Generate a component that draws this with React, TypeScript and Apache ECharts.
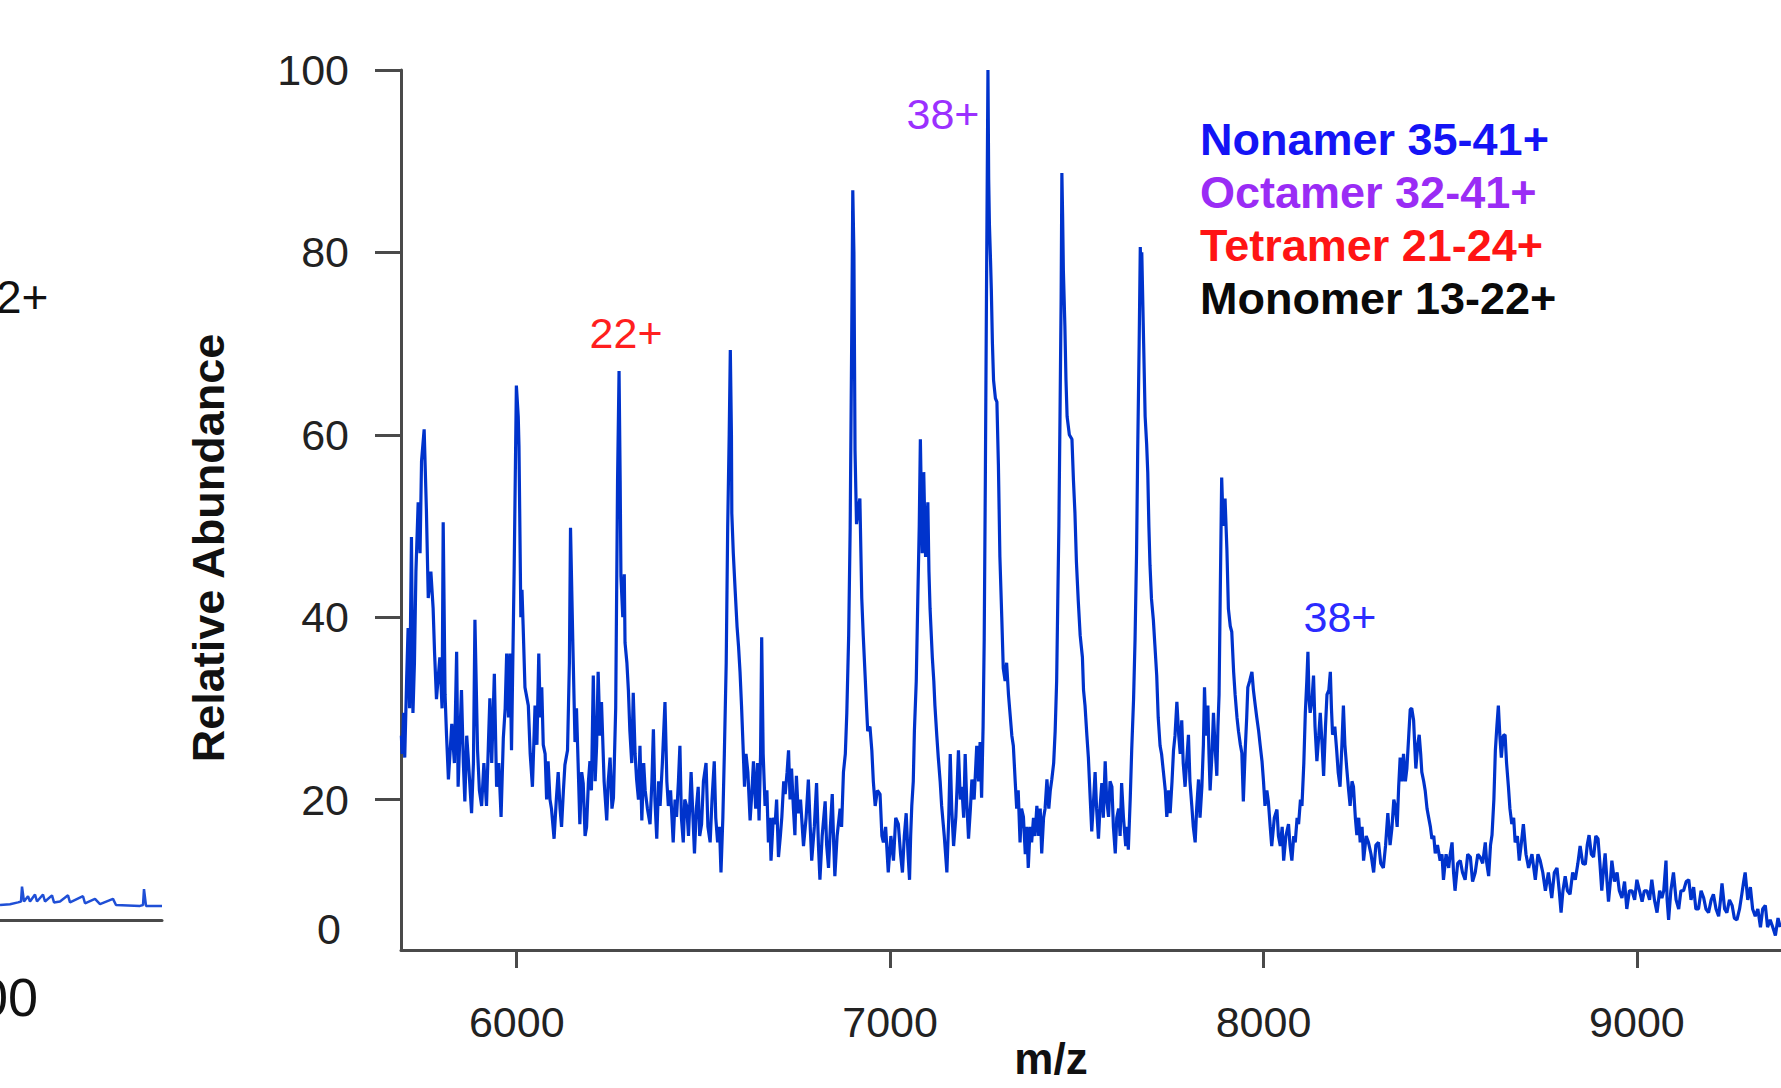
import React, { useEffect, useRef } from "react";
import * as echarts from "echarts";

// ---- Main spectrum (m/z, relative abundance) ----
const spectrumA: [number, number][] = [
  [5691, 27], [5693, 25], [5697, 29.5], [5700, 24.6], [5705, 33], [5709, 38.8], [5713, 30], [5718, 48.8],
  [5722, 29.5], [5726, 35], [5730, 45], [5736, 52.6], [5741, 47], [5745, 57.1], [5752, 60.6], [5758, 51.8],
  [5763, 42.1], [5770, 45], [5776, 41], [5780, 36], [5785, 31], [5794, 35.6], [5800, 30], [5803, 50.4],
  [5808, 31.5], [5812, 27], [5817, 22.2], [5826, 28.3], [5833, 24], [5839, 36.2], [5843, 21.4], [5852, 32],
  [5857, 24], [5861, 19.8], [5866, 27], [5870, 24.6], [5879, 18.5], [5884, 24], [5888, 39.7], [5895, 25.4],
  [5900, 21], [5906, 19.3], [5912, 24], [5919, 19.3], [5924, 26], [5928, 31.1], [5933, 24], [5940, 33.8],
  [5946, 21.4], [5952, 24], [5958, 18.1], [5964, 26.7], [5969, 30], [5973, 36], [5978, 29], [5982, 36],
  [5986, 25.4], [5993, 45], [5999, 65.4], [6004, 62], [6006, 58.7], [6011, 40], [6014, 43], [6017, 39.2],
  [6022, 32.3], [6031, 30.3], [6036, 25], [6042, 21.4], [6049, 30.3], [6054, 26], [6059, 36], [6063, 29],
  [6067, 32.3], [6071, 26], [6076, 25], [6080, 20], [6084, 24.2], [6089, 20], [6093, 19], [6100, 15.7],
  [6106, 20], [6111, 23], [6116, 19], [6120, 17], [6125, 21], [6129, 23.8], [6136, 25.4], [6141, 35],
  [6144, 49.8], [6150, 37.6], [6156, 26.3], [6160, 30], [6163, 25.9], [6169, 17.3], [6174, 23], [6178, 21.8],
  [6183, 16], [6187, 17], [6192, 22], [6196, 24.2], [6200, 21], [6205, 33.6],
];

const spectrumB: [number, number][] = [
  [6210, 22], [6214, 26], [6218, 34], [6223, 27], [6227, 30.7], [6234, 22], [6241, 17.7], [6245, 22],
  [6250, 24.6], [6255, 19], [6259, 20.2], [6265, 30], [6270, 55], [6274, 67], [6277, 55], [6279, 44.5],
  [6284, 40], [6288, 44.7], [6290, 37.2], [6295, 35], [6299, 32], [6303, 27.5], [6308, 24], [6312, 31.7],
  [6317, 25], [6321, 22.2], [6326, 20], [6330, 25.9], [6335, 17.7], [6340, 24], [6344, 21], [6350, 19],
  [6357, 17.3], [6362, 22], [6366, 27.7], [6370, 20], [6375, 15.7], [6380, 22], [6384, 19.3], [6390, 24],
  [6397, 30.7], [6402, 22], [6406, 19.3], [6412, 21], [6419, 15.3], [6424, 20], [6428, 18.1], [6433, 22],
  [6437, 25.9], [6441, 18], [6446, 15.3], [6450, 20], [6455, 19.3], [6460, 16], [6467, 23], [6472, 18],
  [6476, 14.1], [6481, 19], [6486, 21.4], [6490, 16], [6495, 17.3], [6500, 22], [6507, 24], [6512, 17],
  [6518, 15.3], [6523, 20], [6529, 24.2], [6533, 18], [6538, 15.3], [6543, 17], [6547, 12], [6552, 18],
  [6556, 25], [6561, 35], [6565, 50], [6569, 60], [6572, 69.3], [6575, 60], [6576, 51.4], [6580, 47],
  [6585, 42.9], [6590, 39], [6594, 36.8], [6598, 34], [6602, 30.3], [6606, 26], [6610, 21.4], [6614, 25],
  [6619, 23], [6625, 17.7], [6630, 21], [6634, 24.2], [6640, 19], [6645, 24], [6649, 17.7], [6653, 25],
  [6656, 37.8], [6660, 25], [6665, 19.3], [6670, 21], [6674, 15.3], [6678, 18], [6681, 13.3], [6687, 18],
  [6692, 17.3], [6696, 20], [6701, 13.7], [6706, 16], [6710, 18.1], [6715, 22], [6719, 20.6], [6724, 23],
  [6728, 25.4], [6732, 20], [6736, 23.4], [6741, 19], [6745, 16.1],
];

const spectrumC: [number, number][] = [
  [6749, 22.6], [6754, 18.5], [6760, 20], [6768, 14.9], [6775, 18], [6781, 22.2], [6786, 17], [6790, 13.3],
  [6797, 17], [6803, 21.8], [6808, 15], [6812, 11.2], [6818, 16], [6826, 19.8], [6830, 15], [6835, 12.5],
  [6840, 17], [6845, 20.6], [6849, 15], [6852, 11.6], [6858, 16], [6866, 19], [6870, 17], [6875, 23],
  [6880, 25], [6884, 29.5], [6889, 38], [6893, 49.8], [6897, 70], [6900, 86.8], [6903, 80], [6906, 58.3],
  [6910, 50.2], [6915, 52], [6919, 53], [6924, 42.1], [6928, 38], [6933, 33.6], [6937, 30], [6940, 27.5],
  [6946, 28], [6951, 25.4], [6955, 22], [6960, 19.3], [6966, 21], [6973, 20.6], [6978, 16], [6982, 15.3],
  [6988, 17], [6995, 12], [7002, 16], [7009, 13.3], [7015, 18], [7022, 17.3], [7028, 14], [7033, 12],
  [7038, 16], [7043, 18.5], [7048, 14], [7052, 11.2], [7055, 16], [7058, 19.3], [7062, 22], [7065, 27.5],
  [7070, 33], [7074, 41.7], [7078, 50], [7081, 59.5], [7084, 52], [7086, 47], [7090, 55.9], [7093, 50],
  [7095, 46.6], [7101, 52.6], [7104, 45], [7107, 40.9], [7113, 35.6], [7117, 33], [7120, 30.3], [7125, 27],
  [7129, 24.6], [7134, 22], [7138, 19.3], [7145, 16], [7152, 12], [7157, 18], [7161, 25], [7165, 19],
  [7170, 14.9], [7176, 18.1], [7180, 22], [7183, 25.4], [7188, 20], [7192, 21.4], [7197, 18], [7201, 25],
  [7205, 20], [7210, 15.7], [7215, 19], [7219, 22.2], [7225, 20], [7232, 25.9], [7237, 22], [7241, 26.3],
  [7245, 20.2], [7249, 28], [7252, 37.6], [7255, 55], [7258, 75], [7262, 100], [7264, 88], [7266, 83],
  [7269, 79], [7271, 76], [7274, 70], [7277, 66], [7282, 64], [7286, 63.6], [7290, 56.7], [7294, 46.6],
  [7299, 40], [7303, 34.4], [7308, 33], [7312, 35], [7317, 31.5], [7322, 29], [7326, 27], [7330, 25.9],
  [7335, 22], [7339, 19], [7343, 21], [7348, 15.3], [7352, 19], [7357, 18.1], [7362, 14], [7366, 17],
  [7370, 12.5], [7375, 17], [7379, 15.3], [7384, 18], [7388, 16], [7393, 19.3], [7398, 16], [7402, 19],
  [7406, 14.1], [7411, 18], [7415, 19], [7420, 22.2], [7425, 19], [7429, 21], [7433, 22.2], [7438, 24],
  [7442, 27.5], [7446, 33], [7449, 41.7], [7452, 50], [7455, 62], [7458, 75], [7460, 88.7], [7462, 84],
  [7464, 78], [7468, 72], [7471, 66], [7474, 62], [7480, 60], [7487, 59.5], [7491, 55], [7495, 51.4],
  [7499, 46], [7504, 41.7], [7509, 38], [7515, 35.6], [7518, 32], [7522, 30.3], [7527, 27], [7531, 24.6],
  [7536, 20], [7540, 16.5], [7545, 20], [7549, 23], [7553, 19], [7558, 15.7], [7562, 19], [7567, 21.8],
  [7571, 18], [7576, 24.2], [7580, 20], [7585, 18.1], [7589, 22], [7594, 21.4], [7598, 17], [7603, 14.1],
  [7607, 18], [7612, 19], [7616, 16], [7620, 21.8], [7625, 18], [7631, 14.9], [7635, 17], [7638, 14.5],
  [7643, 20], [7647, 25.4], [7652, 31], [7656, 37.6], [7660, 47], [7663, 58], [7667, 70], [7670, 80.6],
  [7672, 77], [7674, 80], [7677, 74], [7679, 70], [7683, 62], [7687, 59], [7690, 55.9], [7693, 50],
  [7696, 45.7], [7700, 42], [7705, 39.7], [7709, 37], [7714, 33.6], [7718, 29], [7723, 25.9], [7727, 25],
  [7732, 23], [7737, 21], [7741, 18.1], [7746, 21], [7750, 18.5], [7755, 22], [7759, 25.4], [7763, 27],
  [7768, 30.7], [7773, 27], [7777, 25], [7781, 28.7], [7785, 24], [7790, 21.4], [7794, 24], [7799, 27.1],
  [7803, 22], [7808, 19.3], [7812, 17], [7817, 15.3],
];

const spectrumD: [number, number][] = [
  [7821, 19], [7826, 22.2], [7830, 18], [7835, 21.4], [7839, 26], [7842, 32.3], [7846, 27], [7851, 30.3],
  [7854, 25], [7857, 21], [7862, 25], [7866, 29.5], [7870, 26], [7875, 22.6], [7878, 28], [7881, 31.5],
  [7884, 42], [7888, 55.3], [7892, 50], [7897, 53], [7902, 47.4], [7906, 40.9], [7911, 39], [7915, 38.4],
  [7920, 34], [7924, 31.5], [7929, 29], [7933, 27.5], [7938, 26], [7942, 25.1], [7946, 19.8], [7951, 25.4],
  [7955, 29], [7958, 32.3], [7963, 33], [7969, 34], [7973, 32], [7978, 30.3], [7982, 29], [7987, 27.5],
  [7991, 26], [7996, 24.2], [8000, 22], [8004, 19.3], [8009, 21], [8013, 19.8], [8018, 17], [8022, 14.9],
  [8029, 18], [8036, 18.9], [8040, 16], [8045, 14.9], [8050, 17], [8054, 13.3], [8060, 16], [8067, 17.3],
  [8071, 15], [8076, 13.3], [8081, 16], [8085, 15.3], [8090, 18], [8094, 17.3], [8099, 20], [8103, 19.3],
  [8108, 24], [8112, 29.5], [8116, 33], [8119, 36.2], [8122, 31], [8125, 29.5], [8130, 31], [8134, 33.6],
  [8138, 28], [8143, 24.2], [8148, 27], [8152, 29.5], [8157, 26], [8161, 22.6], [8166, 28], [8170, 31.5],
  [8175, 32], [8179, 34], [8182, 30], [8185, 27.1], [8191, 28], [8196, 25.4], [8200, 23], [8205, 21.4],
  [8210, 26], [8214, 30.3], [8218, 26], [8223, 23.4], [8228, 21], [8232, 19.3], [8237, 22], [8241, 21.4],
  [8246, 18], [8250, 16.1], [8255, 18], [8259, 15.3], [8264, 17], [8268, 13.3], [8275, 16], [8281, 15.3],
  [8288, 14], [8295, 12], [8301, 15], [8308, 15.3], [8314, 13], [8321, 12.5], [8327, 15], [8333, 18.5],
  [8339, 15], [8344, 16.9], [8349, 20], [8353, 19.3],
];

const spectrumE: [number, number][] = [
  [8358, 17], [8362, 21.4], [8366, 24.6], [8371, 22], [8375, 25], [8380, 22], [8384, 23.4], [8389, 27],
  [8393, 29.9], [8397, 30], [8402, 28.7], [8405, 26], [8408, 23.4], [8413, 26], [8417, 27.1], [8421, 25],
  [8424, 23], [8429, 22], [8433, 21], [8438, 19], [8442, 18.1], [8447, 17], [8451, 15.7], [8456, 16],
  [8460, 14.1], [8466, 15], [8473, 13.3], [8478, 14], [8482, 11.2], [8489, 14], [8496, 12.5], [8500, 14],
  [8505, 15.3], [8509, 12], [8513, 10], [8520, 13], [8527, 13.3], [8533, 12], [8540, 11.2], [8547, 14],
  [8554, 13.7], [8560, 11], [8567, 12], [8574, 14], [8580, 13.7], [8587, 13], [8594, 15.3], [8598, 13],
  [8603, 11.6], [8608, 15], [8612, 16.1], [8617, 20], [8621, 25.4], [8625, 28], [8629, 30.3], [8633, 27],
  [8637, 24.6], [8642, 27], [8647, 27.1], [8651, 24], [8656, 21.4], [8660, 19], [8665, 17.3], [8670, 18],
  [8674, 15.3], [8680, 16], [8685, 13.3], [8690, 15], [8696, 17.3], [8703, 14], [8710, 12.5], [8719, 14],
  [8728, 11.2], [8735, 14], [8741, 13.3], [8748, 12], [8755, 10], [8763, 12], [8772, 9.2], [8779, 12],
  [8786, 12.5], [8792, 10], [8797, 7.6], [8802, 10], [8808, 11.6], [8814, 10], [8821, 9.6], [8828, 12],
  [8835, 11.2], [8842, 13], [8848, 14.9], [8855, 13], [8862, 12.9], [8867, 15], [8872, 16.1], [8878, 14],
  [8884, 13.7],
];

const spectrumF: [number, number][] = [
  [8890, 16], [8896, 15.7], [8901, 13], [8906, 10], [8910, 12], [8915, 14.1], [8920, 11], [8924, 8.8],
  [8929, 11], [8933, 13.3], [8940, 11], [8947, 12], [8953, 10], [8960, 9.2], [8967, 11], [8973, 8],
  [8980, 10], [8987, 10], [8994, 9], [9000, 11.2], [9007, 10], [9014, 8.8], [9020, 10], [9027, 10],
  [9034, 9], [9040, 11.2], [9047, 9], [9054, 7.6], [9061, 10], [9067, 9.2], [9072, 10], [9078, 13.3],
  [9081, 9], [9085, 6.8], [9091, 10], [9098, 12], [9105, 9], [9112, 8], [9118, 10], [9125, 10],
  [9132, 11], [9139, 11.2], [9145, 9], [9152, 10.4], [9158, 8], [9165, 8], [9172, 10], [9179, 9.2],
  [9185, 8], [9192, 7.6], [9199, 9], [9205, 9.6], [9212, 8], [9219, 7.2], [9224, 9], [9228, 10.8],
  [9235, 8], [9241, 7.6], [9248, 9], [9255, 8.4], [9261, 7], [9268, 6.8], [9275, 8], [9281, 9.6],
  [9286, 11], [9290, 12], [9297, 9], [9304, 10.4], [9310, 8], [9317, 7.2], [9324, 8], [9331, 6],
  [9337, 8], [9344, 8.4], [9350, 6], [9357, 6.8], [9364, 6], [9371, 5.1], [9378, 7], [9384, 6],
];

// Peak annotations: [label, m/z, abundance, colour]
const peakLabels: [string, number, number, string][] = [
  ["22+", 6274, 67, "#ff1f1f"],
  ["38+", 7262, 100, "#9b30ff"],
  ["38+", 8119, 36.2, "#2b2bff"],
];

// Species legend lines
const speciesText = ["Nonamer 35-41+", "Octamer 32-41+", "Tetramer 21-24+", "Monomer 13-22+"];
const speciesColors = ["#1414f5", "#9a2cf5", "#ff1414", "#0a0a0a"];

// Axis ticks
const xTicks = [6000, 7000, 8000, 9000];
const yTicks = [20, 40, 60, 80, 100];
const yZeroLabelAt = 5.8; // the "0" label sits here in the picture

// Left (cut-off) neighbouring panel trace
const leftPanel: [number, number][] = [
  [0, 1.7], [10, 1.8], [18, 2.0], [21, 2.1], [22, 3.8], [24, 2.1], [28, 2.7], [30, 2.1], [35, 2.9],
  [37, 2.1], [43, 2.9], [45, 2.1], [52, 2.8], [54, 2.0], [60, 2.1], [68, 2.8], [70, 2.0], [83, 2.7],
  [85, 1.9], [95, 2.4], [100, 1.8], [113, 2.4], [116, 1.7], [140, 1.6], [143, 1.7], [144, 3.5],
  [146, 1.6], [162, 1.6],
];

const FONT = '"Liberation Sans", Arial, Helvetica, sans-serif';
const AXIS_COLOR = "#4a4a4a";

export default function App() {
  const ref = useRef<HTMLDivElement>(null);

  useEffect(() => {
    if (!ref.current) return;
    const chart = echarts.init(ref.current, undefined, { renderer: "svg" });
    const spectrum = [
      ...spectrumA, ...spectrumB, ...spectrumC, ...spectrumD, ...spectrumE, ...spectrumF,
    ];

    const option: any = {
      animation: false,
      backgroundColor: "#ffffff",
      textStyle: { fontFamily: FONT },
      grid: [
        { left: 401, right: 0, top: 70, bottom: 138, outerBoundsMode: "none" },
        { left: 0, width: 162, top: 40, bottom: 168, outerBoundsMode: "none" },
      ],
      xAxis: [
        {
          type: "value",
          gridIndex: 0,
          min: 5690,
          max: 9386,
          axisLine: { show: true, onZero: false, lineStyle: { color: AXIS_COLOR, width: 3 } },
          axisTick: {
            show: true,
            customValues: xTicks,
            length: 18,
            lineStyle: { color: AXIS_COLOR, width: 3 },
          },
          axisLabel: {
            customValues: xTicks,
            formatter: (v: number) => String(v),
            margin: 50,
            fontSize: 43,
            color: "#222222",
            fontFamily: FONT,
          },
          splitLine: { show: false },
          name: "m/z",
          nameLocation: "middle",
          nameGap: 86,
          nameMoveOverlap: false,
          nameTextStyle: {
            fontWeight: "bold",
            fontSize: 44,
            color: "#111111",
            fontFamily: FONT,
            padding: [0, 80, 0, 0],
          },
        },
        {
          type: "value",
          gridIndex: 1,
          min: 0,
          max: 162,
          axisLine: { show: true, onZero: false, lineStyle: { color: AXIS_COLOR, width: 3 } },
          axisTick: { show: false },
          axisLabel: { show: false },
          splitLine: { show: false },
        },
      ],
      yAxis: [
        {
          type: "value",
          gridIndex: 0,
          min: 3.5,
          max: 100,
          axisLine: { show: true, onZero: false, lineStyle: { color: AXIS_COLOR, width: 3 } },
          axisTick: {
            show: true,
            customValues: yTicks,
            length: 26,
            lineStyle: { color: AXIS_COLOR, width: 3 },
          },
          axisLabel: {
            customValues: [yZeroLabelAt, ...yTicks],
            formatter: (v: number) => (v < 10 ? "{z|0}" : String(v)),
            margin: 52,
            fontSize: 43,
            color: "#222222",
            fontFamily: FONT,
            rich: {
              z: { fontSize: 43, color: "#222222", fontFamily: FONT, padding: [0, 8, 0, 0] },
            },
          },
          splitLine: { show: false },
          name: "Relative Abundance",
          nameLocation: "middle",
          nameGap: 170,
          nameMoveOverlap: false,
          nameTextStyle: {
            fontWeight: "bold",
            fontSize: 45,
            color: "#111111",
            fontFamily: FONT,
            padding: [0, 76, 0, 0],
          },
        },
        {
          type: "value",
          gridIndex: 1,
          min: 0,
          max: 100,
          show: false,
        },
      ],
      series: [
        {
          type: "line",
          xAxisIndex: 0,
          yAxisIndex: 0,
          data: spectrum,
          showSymbol: false,
          symbol: "none",
          lineStyle: { color: "#0033cc", width: 3.2 },
          markPoint: {
            symbol: "circle",
            symbolSize: 1,
            itemStyle: { color: "rgba(0,0,0,0)" },
            label: {
              show: true,
              position: "inside",
              formatter: "{b}",
              fontSize: 43,
              fontFamily: FONT,
            },
            data: [
              { name: peakLabels[0][0], coord: [peakLabels[0][1], peakLabels[0][2]], label: { color: peakLabels[0][3], offset: [7, -38] } },
              { name: peakLabels[1][0], coord: [peakLabels[1][1], peakLabels[1][2]], label: { color: peakLabels[1][3], offset: [-45, 44] } },
              { name: peakLabels[2][0], coord: [peakLabels[2][1], peakLabels[2][2]], label: { color: peakLabels[2][3], offset: [32, -35] } },
            ],
          },
        },
        {
          type: "line",
          xAxisIndex: 1,
          yAxisIndex: 1,
          data: leftPanel,
          showSymbol: false,
          symbol: "none",
          lineStyle: { color: "#1f4fd6", width: 2.5 },
        },
      ],
      graphic: [
        ...speciesText.map((t, i) => ({
          type: "text",
          x: 1200,
          y: 139 + i * 53,
          style: {
            text: t,
            font: `bold 45px ${FONT}`,
            fill: speciesColors[i],
            align: "left",
            verticalAlign: "middle",
            textAlign: "left",
            textVerticalAlign: "middle",
          },
        })),
        {
          type: "text",
          x: -4,
          y: 297,
          style: {
            text: "2+",
            font: `46px ${FONT}`,
            fill: "#111111",
            align: "left",
            verticalAlign: "middle",
            textAlign: "left",
            textVerticalAlign: "middle",
          },
        },
        {
          type: "text",
          x: -22,
          y: 997,
          style: {
            text: "00",
            font: `54px ${FONT}`,
            fill: "#111111",
            align: "left",
            verticalAlign: "middle",
            textAlign: "left",
            textVerticalAlign: "middle",
          },
        },
      ],
    };

    chart.setOption(option);
    return () => chart.dispose();
  }, []);

  return (
    <div
      ref={ref}
      style={{ position: "absolute", left: 0, top: 0, width: 1781, height: 1088, background: "#fff" }}
    />
  );
}
